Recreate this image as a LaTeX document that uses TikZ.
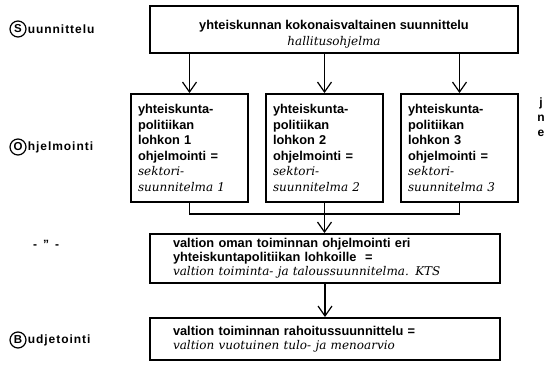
\documentclass[tikz,border=0pt]{standalone}
\usepackage{fontspec}
\setmainfont{Liberation Sans}
\newfontfamily\itf{DejaVu Serif}
\newfontfamily\labf{Liberation Sans}[LetterSpace=8]
\usetikzlibrary{arrows.meta}
\newcommand\bx{\bfseries}
\newcommand\ix{\itf\mdseries\itshape\fontsize{12}{15.5}\selectfont}
\newcommand\ixb{\itf\mdseries\itshape\fontsize{12}{14}\selectfont}
\begin{document}
\begin{tikzpicture}[x=1pt,y=-1pt,
  box/.style={draw,line width=1.9pt,inner sep=0pt,font=\fontsize{12.8}{15.5}\selectfont},
  widebox/.style={box,text width=304pt,inner xsep=23pt,align=left,font=\fontsize{12.8}{14}\selectfont},
  colbox/.style={box,text width=103pt,inner xsep=7pt,minimum height=108pt,align=left},
  conn/.style={line width=1.2pt},
  arr/.style={conn,-{Straight Barb[length=10pt,width=14pt,line width=1.2pt]}},
  lab/.style={font=\fontsize{12}{14}\selectfont\labf\bfseries,anchor=west,inner xsep=1pt,inner ysep=0pt},
  circ/.style={draw,circle,line width=1.2pt,minimum size=16pt,inner sep=0pt,font=\fontsize{11.5}{13}\selectfont\bfseries}
]
\useasboundingbox (0,0) rectangle (554,386);
% main boxes
\node[box,minimum width=368pt,minimum height=47pt] (top) at (334,29.5) {};
\node[align=center,inner sep=0pt,font=\fontsize{12.8}{15.5}\selectfont] (toptext) at (334,34)
  {\bx yhteiskunnan kokonaisvaltainen suunnittelu\\ \ix hallitusohjelma};
\node[colbox] (b1) at (189.5,148) {\bx yhteiskunta-\\ \bx politiikan\\ \bx lohkon 1\\ \bx ohjelmointi =\\ \ix sektori-\\ \ix suunnitelma 1};
\node[colbox] (b2) at (324.5,148) {\bx yhteiskunta-\\ \bx politiikan\\ \bx lohkon 2\\ \bx ohjelmointi =\\ \ix sektori-\\ \ix suunnitelma 2};
\node[colbox] (b3) at (459.5,148) {\bx yhteiskunta-\\ \bx politiikan\\ \bx lohkon 3\\ \bx ohjelmointi =\\ \ix sektori-\\ \ix suunnitelma 3};
\node[widebox,minimum height=49pt] (b4) at (325,258.5)
  {\bx valtion oman toiminnan ohjelmointi eri\\ \bx yhteiskuntapolitiikan lohkoille\ \ =\\ \ixb valtion toiminta- ja taloussuunnitelma. KTS};
\node[widebox,minimum height=42pt] (b5) at (325,339)
  {\bx valtion toiminnan rahoitussuunnittelu =\\ \ixb valtion vuotuinen tulo- ja menoarvio};
% connectors
\draw[arr] (b1.north |- top.south) -- (b1.north);
\draw[arr] (b2.north |- top.south) -- (b2.north);
\draw[arr] (b3.north |- top.south) -- (b3.north);
\coordinate (jn) at (324.5,214);
\draw[conn] (b1.south) |- (jn) -| (b3.south);
\draw[conn] (b2.south) -- (jn);
\draw[arr] (jn) -- (jn |- b4.north);
\draw[arr] (b4.south) -- (b5.north);
% left labels
\node[circ] (cS) at (18,29) {S};
\node[lab] (lS) at (cS.east) {uunnittelu};
\node[circ] (cO) at (18,147) {O};
\node[lab] (lO) at (cO.east) {hjelmointi};
\node[font=\fontsize{12}{14}\selectfont\bfseries] (ditto) at (46,244) {-\hspace{6pt}\symbol{34}\hspace{6pt}-};
\node[circ] (cB) at (18,340) {B};
\node[lab] (lB) at (cB.east) {udjetointi};
% right label
\node[font=\fontsize{12}{15}\selectfont\bfseries,align=center,inner sep=0pt] (jne) at (541,117) {j\\n\\e};
\end{tikzpicture}
\end{document}
